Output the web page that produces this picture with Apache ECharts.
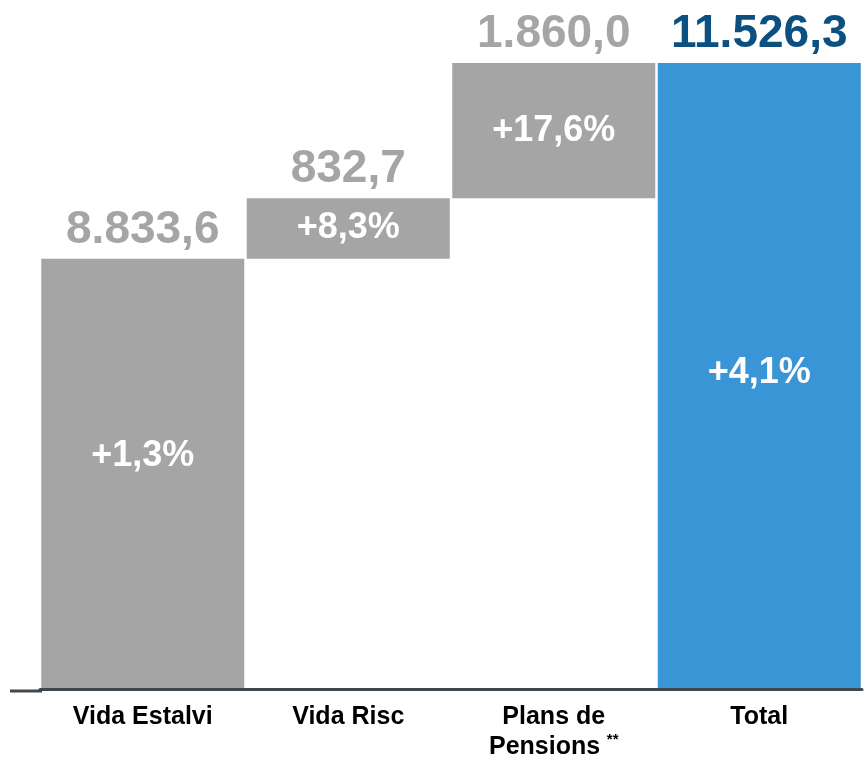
<!DOCTYPE html>
<html>
<head>
<meta charset="utf-8">
<script src="https://cdn.jsdelivr.net/npm/echarts@6/dist/echarts.min.js"></script>
<style>
  html, body { margin: 0; padding: 0; background: #fff; }
  #main { width: 866px; height: 760px; }
</style>
</head>
<body>
<div id="main"></div>
<script>
// dades (milions d'euros)
var categories = ['Vida Estalvi', 'Vida Risc', 'Plans de Pensions', 'Total'];
var amounts = [8833.6, 832.7, 1860.0, 11526.3];
var growth = ['+1,3%', '+8,3%', '+17,6%', '+4,1%'];
var isTotal = [false, false, false, true];

var FONT = '"Liberation Sans", Arial, sans-serif';
var GREY = '#a5a5a5';
var BLUE = '#3a95d6';

// base invisible de la cascada + sostre de cada barra
var bases = [], tops = [], run = 0;
for (var i = 0; i < amounts.length; i++) {
    if (isTotal[i]) { bases.push(0); tops.push(amounts[i]); }
    else { bases.push(run); run += amounts[i]; tops.push(run); }
}

function fmt(v) {
    var p = v.toFixed(1).split('.');
    return p[0].replace(/\B(?=(\d{3})+(?!\d))/g, '.') + ',' + p[1];
}

var chart = echarts.init(document.getElementById('main'));
chart.setOption({
    animation: false,
    grid: { left: 40, right: 4, top: 63, bottom: 69 },
    xAxis: {
        type: 'category',
        data: categories,
        z: 10,
        axisLine: { lineStyle: { color: '#40484d', width: 3 } },
        axisTick: { show: false },
        axisLabel: {
            margin: 13,
            formatter: function (v) {
                if (v === 'Plans de Pensions') return '{a|Plans de}\n{a|Pensions}  {s|**}';
                return '{a|' + v + '}';
            },
            rich: {
                a: { fontFamily: FONT, fontSize: 25, fontWeight: 'bold', color: '#000', lineHeight: 30 },
                s: { fontFamily: FONT, fontSize: 15, fontWeight: 'bold', color: '#000', verticalAlign: 'top', lineHeight: 30 }
            }
        }
    },
    yAxis: {
        type: 'value',
        min: 2912,
        max: 11526.3,
        show: false,
        splitLine: { show: false }
    },
    series: [
        {
            type: 'bar',
            stack: 'w',
            barWidth: 203,
            itemStyle: { color: 'transparent' },
            silent: true,
            data: bases
        },
        {
            type: 'bar',
            stack: 'w',
            barWidth: 203,
            data: amounts.map(function (v, i) {
                return {
                    value: v,
                    itemStyle: { color: isTotal[i] ? BLUE : GREY },
                    label: i === 0 ? { offset: [0, -18] } : (isTotal[i] ? { offset: [0, -3] } : {})
                };
            }),
            label: {
                show: true,
                position: 'inside',
                fontFamily: FONT,
                fontSize: 36,
                fontWeight: 'bold',
                color: '#fff',
                formatter: function (p) { return growth[p.dataIndex]; }
            }
        },
        {
            type: 'bar',
            barWidth: 203,
            barGap: '-100%',
            itemStyle: { color: 'transparent' },
            silent: true,
            data: tops.map(function (v, i) {
                return isTotal[i] ? { value: v, label: { color: '#0b5080' } } : v;
            }),
            label: {
                show: true,
                position: 'top',
                distance: 6,
                fontFamily: FONT,
                fontSize: 46,
                fontWeight: 'bold',
                color: GREY,
                formatter: function (p) { return fmt(amounts[p.dataIndex]); }
            },
            z: 3
        }
    ],
    graphic: [{
        type: 'rect',
        shape: { x: 10, y: 689.5, width: 32, height: 3 },
        style: { fill: '#40484d' }
    }]
});
</script>
</body>
</html>
